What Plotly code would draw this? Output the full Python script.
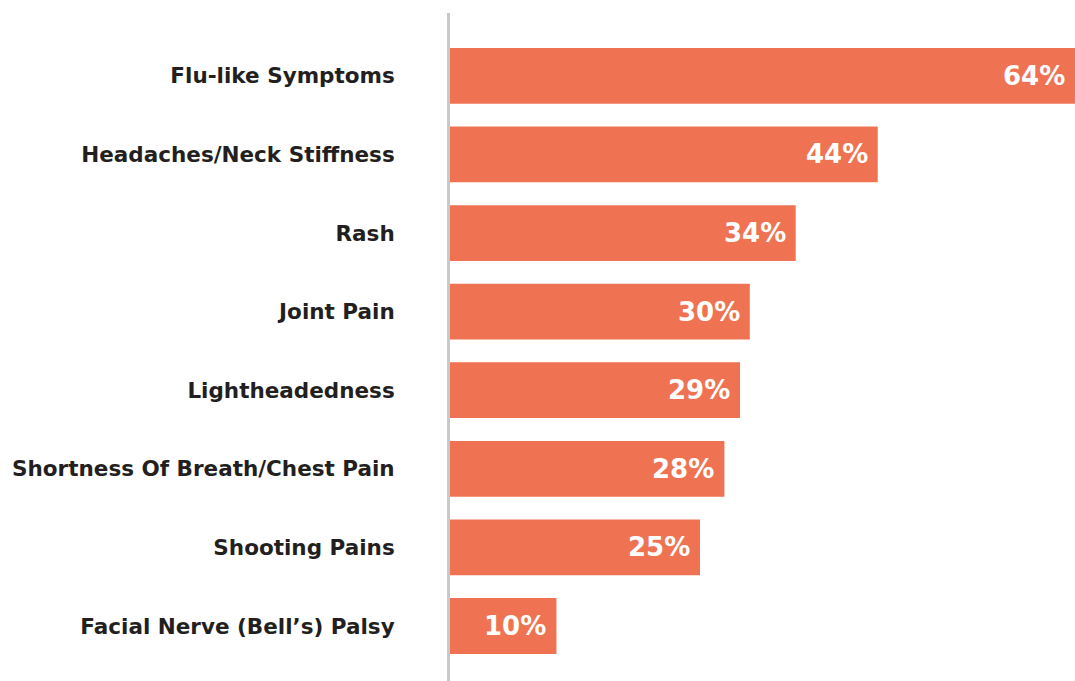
import plotly.graph_objects as go

categories = [
    "Flu-like Symptoms",
    "Headaches/Neck Stiffness",
    "Rash",
    "Joint Pain",
    "Lightheadedness",
    "Shortness Of Breath/Chest Pain",
    "Shooting Pains",
    "Facial Nerve (Bell\u2019s) Palsy",
]
bar_lengths = [64.0, 43.8, 35.4, 30.7, 29.7, 28.1, 25.6, 10.9]
value_labels = ["64%", "44%", "34%", "30%", "29%", "28%", "25%", "10%"]

BAR_COLOR = "#EF7352"
TEXT_COLOR = "#231F20"
FONT = "DejaVu Sans, Verdana, sans-serif"

fig = go.Figure(
    go.Bar(
        x=bar_lengths,
        y=categories,
        orientation="h",
        marker=dict(color=BAR_COLOR, line=dict(width=0)),
        width=0.71,
        hoverinfo="skip",
    )
)

annotations = [
    dict(
        x=v, y=c, xref="x", yref="y", text=f"<b>{t}</b>",
        showarrow=False, xanchor="right", yanchor="middle", xshift=-8,
        font=dict(family=FONT, size=26, color="white"),
    )
    for c, v, t in zip(categories, bar_lengths, value_labels)
]

fig.update_layout(
    width=1075,
    height=681,
    margin=dict(l=450, r=0, t=13, b=0),
    paper_bgcolor="white",
    plot_bgcolor="white",
    showlegend=False,
    annotations=annotations,
    xaxis=dict(
        range=[0, 64.0],
        showgrid=False,
        zeroline=False,
        showticklabels=False,
        showline=False,
        ticks="",
        fixedrange=True,
    ),
    yaxis=dict(
        categoryorder="array",
        categoryarray=categories,
        range=[7.7, -0.8],
        showgrid=False,
        zeroline=False,
        showline=True,
        linecolor="#C8C8C8",
        linewidth=3,
        ticks="",
        ticklabelstandoff=48,
        tickfont=dict(family=FONT, size=21.5, color=TEXT_COLOR, weight="bold"),
        fixedrange=True,
    ),
)

fig.write_html(
    "out.html",
    config={"displayModeBar": False},
    post_script="document.body.style.margin='0';document.body.style.overflow='hidden';",
)
